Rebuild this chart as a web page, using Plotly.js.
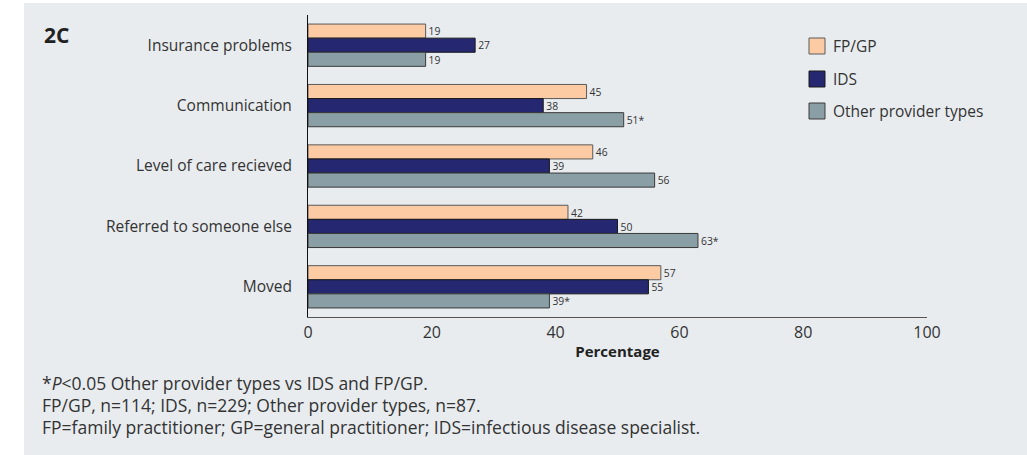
<!DOCTYPE html>
<html>
<head>
<meta charset="utf-8">
<script src="https://cdn.plot.ly/plotly-3.0.1.min.js"></script>
<style>html,body{margin:0;padding:0;background:#fff;}#chart{width:1027px;height:455px;}</style>
</head>
<body>
<div id="chart"></div>
<script>
const categories = ["Insurance problems", "Communication", "Level of care recieved", "Referred to someone else", "Moved"];
const seriesNames = ["FP/GP", "IDS", "Other provider types"];
const fpgpValues = [19, 45, 46, 42, 57];
const idsValues = [27, 38, 39, 50, 55];
const otherValues = [19, 51, 56, 63, 39];
const otherLabels = ["19", "51*", "56", "63*", "39*"];
const xTicks = [0, 20, 40, 60, 80, 100];
const panelLabel = "2C";
const xTitle = "Percentage";
const footnotes = [
  "*<i>P</i><0.05 Other provider types vs IDS and FP/GP.",
  "FP/GP, n=114; IDS, n=229; Other provider types, n=87.",
  "FP=family practitioner; GP=general practitioner; IDS=infectious disease specialist."
];

const colors = ["#fdcba3", "#252771", "#8a9fa5"];
const outlines = ["#5a5a5a", "#1a1a1a", "#3a3a3a"];
const FONT = "Open Sans, Noto Sans, sans-serif";

const W = 1027, H = 455, L = 308, R = 100, T = 15, B = 138;
const PW = W - L - R, PH = H - T - B;
const px = v => (v - L) / PW;
const py = v => 1 - (v - T) / PH;

const allValues = [fpgpValues, idsValues, otherValues];
const allText = [fpgpValues.map(String), idsValues.map(String), otherLabels];

const traces = seriesNames.map((name, i) => ({
  type: "bar",
  orientation: "h",
  name: name,
  y: categories,
  x: allValues[i],
  text: allText[i],
  textposition: "outside",
  cliponaxis: false,
  textfont: {family: FONT, size: 11, color: "#333"},
  marker: {color: colors[i], line: {color: outlines[i], width: 1}},
  hoverinfo: "x+name",
  showlegend: false
}));

const shapes = [{
  type: "rect", xref: "paper", yref: "paper", layer: "below",
  x0: px(24), x1: px(1027), y0: py(455), y1: py(3),
  fillcolor: "#e8ecef", line: {width: 0}
}];
const annotations = [];

const legendY = [46, 79, 111];
seriesNames.forEach((name, i) => {
  shapes.push({
    type: "rect", xref: "paper", yref: "paper",
    x0: px(809), x1: px(825), y0: py(legendY[i] + 8), y1: py(legendY[i] - 8),
    fillcolor: colors[i], line: {color: outlines[i], width: 1}
  });
  annotations.push({
    xref: "paper", yref: "paper", x: px(831), y: py(legendY[i]),
    xanchor: "left", yanchor: "middle", showarrow: false,
    text: name, font: {family: FONT, size: 15.5, color: "#333"}
  });
});

annotations.push({
  xref: "paper", yref: "paper", x: px(42), y: py(35),
  xanchor: "left", yanchor: "middle", showarrow: false,
  text: "<b>" + panelLabel + "</b>", font: {family: FONT, size: 21, color: "#222"}
});

const footY = [383, 405, 427];
footnotes.forEach((t, i) => {
  annotations.push({
    xref: "paper", yref: "paper", x: px(40), y: py(footY[i]),
    xanchor: "left", yanchor: "middle", showarrow: false,
    text: t, font: {family: FONT, size: 17.5, color: "#333"}
  });
});

const layout = {
  width: W, height: H,
  margin: {l: L, r: R, t: T, b: B, pad: 0},
  paper_bgcolor: "#ffffff",
  plot_bgcolor: "rgba(0,0,0,0)",
  barmode: "group",
  bargap: 0.3,
  bargroupgap: 0,
  showlegend: false,
  font: {family: FONT, color: "#333"},
  xaxis: {
    range: [0, 100],
    tickvals: xTicks,
    ticktext: xTicks.map(String),
    showgrid: false, zeroline: false,
    showline: true, linecolor: "#555", linewidth: 1,
    ticks: "", ticklabelstandoff: 1,
    tickfont: {family: FONT, size: 16, color: "#333"},
    title: {text: "<b>" + xTitle + "</b>", font: {family: FONT, size: 15, color: "#222"}, standoff: 4},
    fixedrange: true
  },
  yaxis: {
    autorange: "reversed",
    showgrid: false, zeroline: false,
    showline: true, linecolor: "#111", linewidth: 1,
    ticks: "", ticklabelstandoff: 12,
    tickfont: {family: FONT, size: 15.5, color: "#333"},
    fixedrange: true
  },
  shapes: shapes,
  annotations: annotations
};

Plotly.newPlot("chart", traces, layout, {displayModeBar: false, staticPlot: true});
</script>
</body>
</html>
